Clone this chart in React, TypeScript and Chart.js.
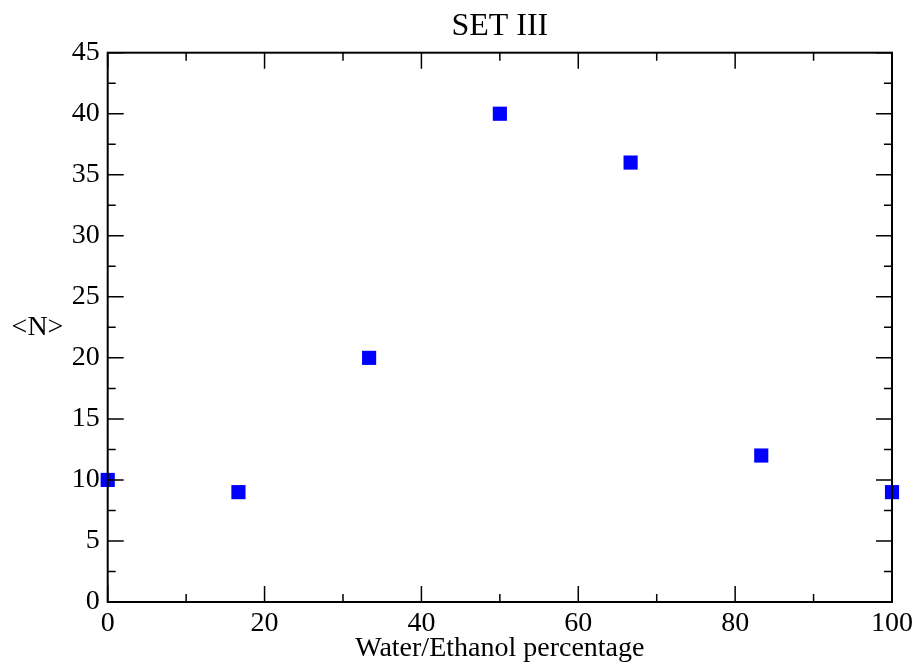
import { useEffect, useRef } from "react";
import { Chart, registerables } from "chart.js";

Chart.register(...registerables);

const titleText = "SET III";
const xAxisLabel = "Water/Ethanol percentage";
const yAxisLabel = "<N>";

const xValues = [0, 16.67, 33.33, 50, 66.67, 83.33, 100];
const yValues = [10, 9, 20, 40, 36, 12, 9];

const xMajorTicks = [0, 20, 40, 60, 80, 100];
const xMinorTicks = [10, 30, 50, 70, 90];
const yMajorTicks = [0, 5, 10, 15, 20, 25, 30, 35, 40, 45];
const yMinorTicks = [2.5, 7.5, 12.5, 17.5, 22.5, 27.5, 32.5, 37.5, 42.5];

const FONT = '"Liberation Serif", "Times New Roman", serif';

const framePlugin = {
  id: "frame",
  afterDraw(chart: any) {
    const { ctx, chartArea, scales } = chart;
    const { left, right, top, bottom } = chartArea;
    const xs = scales.x;
    const ys = scales.y;
    ctx.save();
    ctx.strokeStyle = "#000";
    ctx.lineWidth = 1.5;
    ctx.beginPath();
    const major = 16;
    const minor = 8;
    xMajorTicks.forEach((v) => {
      const p = xs.getPixelForValue(v);
      ctx.moveTo(p, bottom);
      ctx.lineTo(p, bottom - major);
      ctx.moveTo(p, top);
      ctx.lineTo(p, top + major);
    });
    xMinorTicks.forEach((v) => {
      const p = xs.getPixelForValue(v);
      ctx.moveTo(p, bottom);
      ctx.lineTo(p, bottom - minor);
      ctx.moveTo(p, top);
      ctx.lineTo(p, top + minor);
    });
    yMajorTicks.forEach((v) => {
      const p = ys.getPixelForValue(v);
      ctx.moveTo(left, p);
      ctx.lineTo(left + major, p);
      ctx.moveTo(right, p);
      ctx.lineTo(right - major, p);
    });
    yMinorTicks.forEach((v) => {
      const p = ys.getPixelForValue(v);
      ctx.moveTo(left, p);
      ctx.lineTo(left + minor, p);
      ctx.moveTo(right, p);
      ctx.lineTo(right - minor, p);
    });
    ctx.stroke();
    ctx.lineWidth = 2;
    ctx.strokeRect(left, top, right - left, bottom - top);
    ctx.fillStyle = "#000";
    ctx.font = `28px ${FONT}`;
    ctx.textAlign = "center";
    ctx.textBaseline = "middle";
    ctx.fillText(yAxisLabel, 37.5, (top + bottom) / 2);
    ctx.restore();
  },
};

export default function App() {
  const ref = useRef<HTMLCanvasElement | null>(null);
  useEffect(() => {
    if (!ref.current) return;
    const chart = new Chart(ref.current, {
      type: "scatter",
      data: {
        datasets: [
          {
            data: xValues.map((x, i) => ({ x, y: yValues[i] })),
            pointStyle: "rect",
            pointRadius: 10,
            pointHoverRadius: 10,
            pointBackgroundColor: "#0000ff",
            pointBorderWidth: 0,
            borderWidth: 0,
            clip: false as any,
          },
        ],
      },
      options: {
        animation: false,
        responsive: true,
        maintainAspectRatio: false,
        layout: { padding: { left: 0, right: 23, top: 0, bottom: 0 } },
        plugins: {
          legend: { display: false },
          tooltip: { enabled: false },
          title: {
            display: true,
            text: titleText,
            color: "#000",
            fullSize: false,
            font: { family: FONT, size: 32, weight: "normal" },
            padding: { top: 7.5, bottom: 6.8 },
          },
        },
        scales: {
          x: {
            type: "linear",
            min: 0,
            max: 100,
            grid: { display: false, drawTicks: false },
            border: { display: false },
            ticks: {
              stepSize: 20,
              autoSkip: false,
              maxRotation: 0,
              color: "#000",
              padding: 5,
              font: { family: FONT, size: 28 },
            },
            title: {
              display: true,
              text: xAxisLabel,
              color: "#000",
              font: { family: FONT, size: 28 },
              padding: { top: 0, bottom: 1 },
            },
            afterFit(scale: any) {
              scale.height = 64;
            },
          },
          y: {
            type: "linear",
            min: 0,
            max: 45,
            grid: { display: false, drawTicks: false },
            border: { display: false },
            ticks: {
              stepSize: 5,
              autoSkip: false,
              color: "#000",
              padding: 8,
              font: { family: FONT, size: 28 },
            },
            afterFit(scale: any) {
              scale.width = 107.7;
            },
          },
        },
      },
      plugins: [framePlugin],
    });
    return () => chart.destroy();
  }, []);
  return (
    <div style={{ position: "absolute", left: 0, top: 0, width: 918, height: 666, background: "#fff" }}>
      <canvas ref={ref} />
    </div>
  );
}
